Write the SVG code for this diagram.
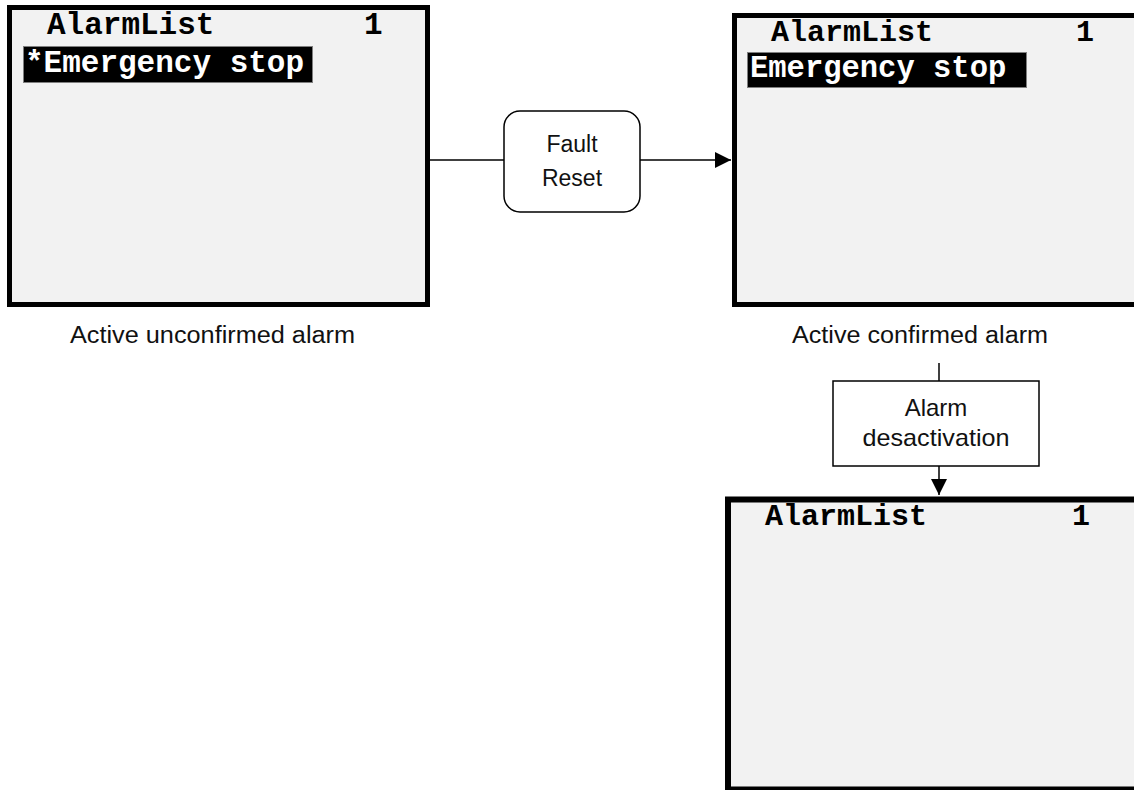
<svg xmlns="http://www.w3.org/2000/svg" width="1134" height="790" viewBox="0 0 1134 790">
<style>
.screen{fill:#f2f2f2;stroke:#000;}
.inner{fill:none;stroke:#a6a6a6;stroke-width:1;}
.mono{font-family:"Liberation Mono","Courier New",monospace;font-weight:bold;fill:#000;}
.inv{fill:#fff;}
.hl{fill:#000;stroke:#7f7f7f;stroke-width:1;}
.lbl{font-family:"Liberation Sans",Arial,sans-serif;fill:#111;}
.box{fill:#fff;stroke:#000;stroke-width:1.5;}
.wire{fill:none;stroke:#000;stroke-width:1.5;}
</style>
<defs>
<marker id="arr" markerUnits="userSpaceOnUse" markerWidth="16" markerHeight="16" refX="16" refY="8" orient="auto">
<path d="M0,0 L16,8 L0,16 Z" fill="#000"/>
</marker>
</defs>
<rect width="1134" height="790" fill="#fff"/>

<g id="connectors">
<line class="wire" x1="430" y1="160" x2="504" y2="160"/>
<line class="wire" x1="640" y1="160" x2="731" y2="160" marker-end="url(#arr)"/>
<line class="wire" x1="939" y1="363" x2="939" y2="381"/>
<line class="wire" x1="939" y1="466" x2="939" y2="495" marker-end="url(#arr)"/>
</g>

<g id="screen-unconfirmed">
<rect class="screen" x="9.5" y="7.5" width="418" height="297" stroke-width="5"/>
<text class="mono" x="47" y="34" font-size="31">AlarmList</text>
<text class="mono" x="364" y="34" font-size="31">1</text>
<rect class="hl" x="23.5" y="46.5" width="289" height="36"/>
<text class="mono inv" x="25" y="72" font-size="31">*Emergency stop</text>
</g>

<g id="caption-unconfirmed">
<text class="lbl" x="70" y="343" font-size="23" textLength="285" lengthAdjust="spacingAndGlyphs">Active unconfirmed alarm</text>
</g>

<g id="fault-reset">
<rect class="box" x="504" y="111" width="136" height="101" rx="16"/>
<text class="lbl" x="572" y="152" font-size="23" text-anchor="middle">Fault</text>
<text class="lbl" x="572" y="186" font-size="23" text-anchor="middle">Reset</text>
</g>

<g id="screen-confirmed">
<rect class="screen" x="734.5" y="15.5" width="500" height="289" stroke-width="5"/>
<text class="mono" x="771" y="41" font-size="30">AlarmList</text>
<text class="mono" x="1076" y="41" font-size="30">1</text>
<rect class="hl" x="747.5" y="52.5" width="279" height="35"/>
<text class="mono inv" x="750" y="77" font-size="30.5">Emergency stop</text>
</g>

<g id="caption-confirmed">
<text class="lbl" x="792" y="343" font-size="23" textLength="256" lengthAdjust="spacingAndGlyphs">Active confirmed alarm</text>
</g>

<g id="alarm-desactivation">
<rect class="box" x="833" y="381" width="206" height="85"/>
<text class="lbl" x="936" y="416" font-size="24" text-anchor="middle">Alarm</text>
<text class="lbl" x="936" y="446" font-size="24" text-anchor="middle" textLength="147" lengthAdjust="spacingAndGlyphs">desactivation</text>
</g>

<g id="screen-cleared">
<rect class="screen" x="728" y="499.5" width="500" height="290" stroke-width="6"/>
<text class="mono" x="765" y="525" font-size="30">AlarmList</text>
<text class="mono" x="1072" y="525" font-size="30">1</text>
</g>
</svg>
